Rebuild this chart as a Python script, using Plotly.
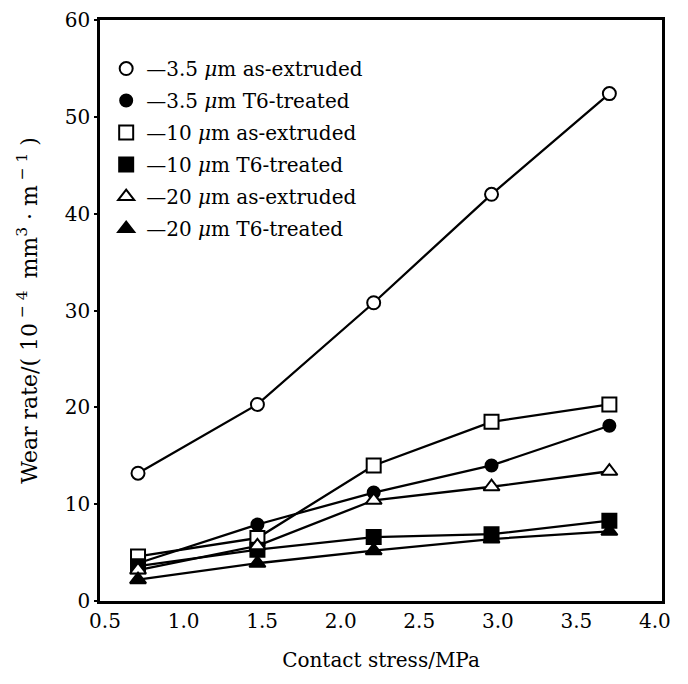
import plotly.graph_objects as go

# Data
contact_stress = [0.71, 1.47, 2.21, 2.96, 3.71]
series_names = [
    "3.5 <i>μ</i>m as-extruded",
    "3.5 <i>μ</i>m T6-treated",
    "10 <i>μ</i>m as-extruded",
    "10 <i>μ</i>m T6-treated",
    "20 <i>μ</i>m as-extruded",
    "20 <i>μ</i>m T6-treated",
]
wear_35_ext = [13.2, 20.3, 30.8, 42.0, 52.4]
wear_35_t6 = [3.9, 7.9, 11.2, 14.0, 18.1]
wear_10_ext = [4.6, 6.5, 14.0, 18.5, 20.3]
wear_10_t6 = [3.6, 5.3, 6.6, 6.9, 8.3]
wear_20_ext = [3.2, 5.7, 10.4, 11.8, 13.4]
wear_20_t6 = [2.2, 3.9, 5.2, 6.4, 7.2]
x_ticks = [0.5, 1.0, 1.5, 2.0, 2.5, 3.0, 3.5, 4.0]
y_ticks = [0, 10, 20, 30, 40, 50, 60]

series = [wear_35_ext, wear_35_t6, wear_10_ext, wear_10_t6, wear_20_ext, wear_20_t6]
symbols = ["circle", "circle", "square", "square", "triangle-up", "triangle-up"]
fills = ["white", "black", "white", "black", "white", "black"]
sizes = [13, 12, 14, 14, 14, 14]

FONT = "DejaVu Serif"
fig = go.Figure()

for i, ys in enumerate(series):
    fig.add_trace(go.Scatter(
        x=contact_stress, y=ys, mode="lines+markers",
        line=dict(color="black", width=2.3),
        marker=dict(symbol=symbols[i], size=sizes[i], color=fills[i],
                    line=dict(color="black", width=2)),
        showlegend=False, hoverinfo="skip",
    ))

# legend entries (marker + dash, as in the original)
for i in range(len(series)):
    fig.add_trace(go.Scatter(
        x=[None], y=[None], mode="markers",
        marker=dict(symbol=symbols[i], size=sizes[i], color=fills[i],
                    line=dict(color="black", width=2)),
        name="—" + series_names[i], legendgroup=str(i),
    ))

fig.update_layout(
    width=688, height=684,
    margin=dict(l=92, r=34, t=12, b=91),
    paper_bgcolor="white", plot_bgcolor="white",
    font=dict(family=FONT, size=20, color="black"),
    showlegend=True,
    legend=dict(x=0.011, y=0.95, xanchor="left", yanchor="top",
                bgcolor="rgba(0,0,0,0)", borderwidth=0,
                font=dict(family=FONT, size=20, color="black"),
                traceorder="grouped", tracegroupgap=3, itemwidth=30),
    xaxis=dict(range=[0.468, 4.045], tickvals=x_ticks, tickformat=".1f",
               automargin=False, ticklabeloverflow="allow",
               showgrid=False, zeroline=False, showline=True, mirror=True,
               linecolor="black", linewidth=2.5, ticks="",
               title=dict(text="Contact stress/MPa", standoff=22,
                          font=dict(family=FONT, size=20))),
    yaxis=dict(range=[0, 60], tickvals=y_ticks, automargin=False,
               ticklabeloverflow="allow",
               showgrid=False, zeroline=False, showline=True, mirror=True,
               linecolor="black", linewidth=2.5, ticks="outside", ticklen=3,
               tickwidth=1.5, tickcolor="black",
               title=dict(text="Wear rate/( 10<sup> − 4 </sup> mm<sup>3</sup> · m<sup> − 1</sup> )",
                          standoff=22, font=dict(family=FONT, size=22))),
)

fig.write_html("out.html")
